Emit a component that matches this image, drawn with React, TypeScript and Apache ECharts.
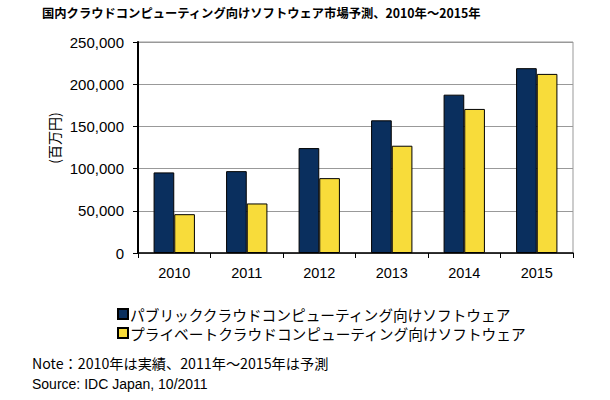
import React, { useEffect, useRef } from "react";
import * as echarts from "echarts";

const categories = ["2010", "2011", "2012", "2013", "2014", "2015"];
const publicCloud = [95500, 97000, 124300, 157200, 187600, 219000];
const privateCloud = [46000, 58700, 88700, 127100, 170700, 212200];
const seriesNames = [
  "パブリッククラウドコンピューティング向けソフトウェア",
  "プライベートクラウドコンピューティング向けソフトウェア",
];
const titleText = "国内クラウドコンピューティング向けソフトウェア市場予測、2010年～2015年";
const yName = "(百万円)";
const noteText = "Note：2010年は実績、2011年～2015年は予測";
const sourceText = "Source: IDC Japan, 10/2011";

export default function App() {
  const ref = useRef<HTMLDivElement>(null);
  useEffect(() => {
    if (!ref.current) return;
    const chart = echarts.init(ref.current, null, { renderer: "svg" });
    const cjk = "'Noto Sans CJK JP', 'Liberation Sans', sans-serif";
    const latin = "'Liberation Sans', Arial, sans-serif";
    chart.setOption({
      animation: false,
      backgroundColor: "#ffffff",
      grid: {
        left: 138,
        right: 37,
        top: 42,
        bottom: 147,
        show: true,
        borderColor: "#999999",
        borderWidth: 1,
      },
      legend: {
        orient: "vertical",
        left: 112,
        top: 301,
        itemWidth: 10,
        itemHeight: 10,
        itemGap: 3,
        icon: "rect",
        textStyle: { fontSize: 14.7, lineHeight: 16, fontFamily: cjk, color: "#000", padding: [0, 0, 0, -3] },
        data: seriesNames,
      },
      xAxis: {
        type: "category",
        data: categories,
        axisLine: { lineStyle: { color: "#000", width: 1.5 } },
        axisTick: { show: true, length: 5, lineStyle: { color: "#000" } },
        axisLabel: { fontSize: 14.5, fontFamily: latin, color: "#000", margin: 12 },
      },
      yAxis: {
        type: "value",
        min: 0,
        max: 250000,
        interval: 50000,
        axisLine: { show: true, lineStyle: { color: "#000", width: 2 } },
        axisTick: { show: true, length: 5, lineStyle: { color: "#000" } },
        splitLine: { lineStyle: { color: "#999999", width: 1 } },
        axisLabel: {
          fontSize: 15,
          fontFamily: latin,
          color: "#000",
          margin: 14,
          formatter: (v: number) => v.toLocaleString("en-US"),
        },
      },
      series: [
        {
          name: seriesNames[0],
          type: "bar",
          data: publicCloud,
          barGap: "0%",
          barCategoryGap: "43%",
          itemStyle: { color: "#0a2f5e", borderColor: "#000", borderWidth: 1 },
        },
        {
          name: seriesNames[1],
          type: "bar",
          data: privateCloud,
          itemStyle: { color: "#f8dc3a", borderColor: "#000", borderWidth: 1 },
        },
      ],
      graphic: [
        {
          type: "text",
          left: 42,
          top: 7,
          style: { text: titleText, fontSize: 12.3, fontWeight: "bold", fontFamily: cjk, fill: "#000" },
        },
        {
          type: "text",
          x: 54,
          y: 138,
          rotation: Math.PI / 2,
          style: {
            text: yName,
            fontSize: 14,
            fontFamily: cjk,
            fill: "#000",
            align: "center",
            verticalAlign: "middle",
          },
        },
        {
          type: "text",
          left: 32,
          top: 356,
          style: { text: noteText, fontSize: 14.2, fontFamily: cjk, fill: "#000" },
        },
        {
          type: "text",
          left: 32,
          top: 377,
          style: { text: sourceText, fontSize: 14, fontFamily: latin, fill: "#000" },
        },
      ],
    });
    return () => chart.dispose();
  }, []);
  return <div ref={ref} style={{ width: 610, height: 400, position: "absolute", left: 0, top: 0 }} />;
}
